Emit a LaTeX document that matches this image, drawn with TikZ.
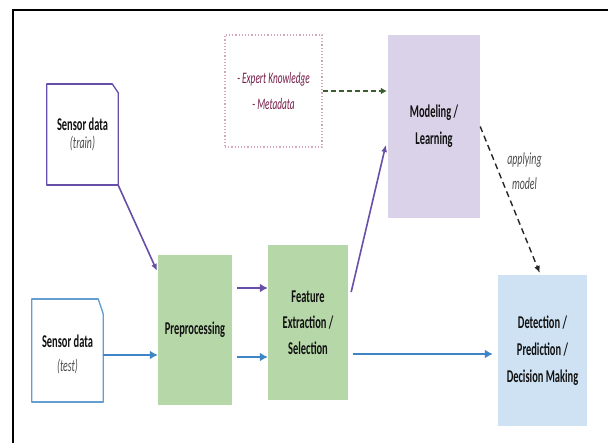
\documentclass[tikz,border=0pt]{standalone}
\usepackage{fontspec}
\setmainfont{Carlito}[FakeStretch=0.58]
\usetikzlibrary{arrows.meta,calc}

\definecolor{greenbox}{HTML}{B6D7A8}
\definecolor{lavbox}{HTML}{D9D2E9}
\definecolor{bluebox}{HTML}{CFE2F3}
\definecolor{trainpurple}{HTML}{674EA7}
\definecolor{testblue}{HTML}{3D85C6}
\definecolor{knowgreen}{HTML}{3A5F2C}
\definecolor{knowpink}{HTML}{D5A6BD}
\definecolor{knowtext}{HTML}{741B47}
\definecolor{inktext}{HTML}{111111}
\definecolor{softtext}{HTML}{4A4A4A}

\begin{document}
\begin{tikzpicture}[x=1pt,y=-1pt,
  stage/.style={rectangle, inner sep=0pt, align=center, text=inktext,
    font=\bfseries\fontsize{18}{27}\selectfont},
  source/.style={rectangle, inner sep=0pt, align=center, text=inktext,
    font=\bfseries\fontsize{18}{18}\selectfont},
  flowhead/.style={-{Latex[length=8pt,width=9pt]}},
  thinhead/.style={-{Latex[length=7pt,width=6pt]}},
  trainflow/.style={thinhead, draw=trainpurple, line width=1.6pt},
  testflow/.style={flowhead, draw=testblue, line width=2.8pt},
  featflow/.style={flowhead, draw=trainpurple, line width=2.8pt},
]
\useasboundingbox (0,0) rectangle (608,443);

% page frame
\draw[line width=1.6pt] (13,443) -- (13,10) -- (608,10);

% data sources: document-like boxes with a clipped top-right corner
\node[source, minimum width=71pt, minimum height=101pt] (train) at (82.5,134.5)
  {Sensor data\\{\mdseries\itshape\color{softtext}\fontsize{17}{18}\selectfont(train)}};
\draw[trainpurple, line width=1.3pt, line join=round]
  (train.north west) -- ($(train.north east)+(-6,0)$) -- ($(train.north east)+(0,9)$)
  -- (train.south east) -- (train.south west) -- cycle;
\draw[trainpurple, line width=2.4pt]
  (train.north west) -- ($(train.north east)+(-6,0)$)
  (train.south west) -- (train.south east);

\node[source, minimum width=71pt, minimum height=103pt,
  font=\bfseries\fontsize{18}{24}\selectfont] (test) at (67.5,350.5)
  {\\[-4pt]Sensor data\\{\mdseries\itshape\color{softtext}\fontsize{17}{24}\selectfont(test)}};
\draw[testblue!80, line width=1.3pt, line join=round]
  (test.north west) -- ($(test.north east)+(-5,0)$) -- ($(test.north east)+(0,15)$)
  -- (test.south east) -- (test.south west) -- cycle;
\draw[testblue!80, line width=2.4pt]
  (test.north west) -- ($(test.north east)+(-5,0)$)
  (test.south west) -- (test.south east);

% processing stages
\node[stage, fill=greenbox, minimum width=74pt, minimum height=150pt] (pre) at (195,330)
  {Preprocessing};
\node[stage, fill=greenbox, minimum width=80pt, minimum height=155pt,
  font=\bfseries\fontsize{18}{26}\selectfont] (feat) at (308,322.5)
  {Feature\\Extraction /\\Selection};
\node[stage, fill=lavbox, minimum width=92pt, minimum height=183pt] (model) at (434,126.5)
  {Modeling /\\Learning};
\node[stage, fill=bluebox, minimum width=89pt, minimum height=151pt] (det) at (542.5,350.5)
  {Detection /\\Prediction /\\Decision Making};

% prior knowledge
\node[rectangle, draw=knowpink, dotted, line width=1.2pt, inner sep=0pt,
  minimum width=97pt, minimum height=112pt, align=center, text=knowtext,
  font=\itshape\fontsize{16}{26}\selectfont] (expert) at (273.5,91)
  {- Expert Knowledge\\- Metadata};

% connectors
\draw[trainflow, shorten >=2pt] (train.south east) -- (pre.123.5);
\draw[testflow] ([shift={(0,4.5)}]test.east) -- ([shift={(0,25)}]pre.west);
\draw[featflow, shorten <=5pt] ([shift={(0,-42)}]pre.east) -- ([shift={(0,-34.5)}]feat.west);
\draw[testflow, shorten <=5pt] ([shift={(0,27)}]pre.east) -- ([shift={(0,34.5)}]feat.west);
\draw[trainflow] ([shift={(3,-30.5)}]feat.east) -- ([shift={(-2,18.5)}]model.west);
\draw[testflow, shorten <=5pt, shorten >=5pt] ([shift={(0,31.5)}]feat.east) -- ([shift={(0,3.5)}]det.west);
\draw[knowgreen, dashed, line width=2.2pt, dash pattern=on 5pt off 3pt,
  -{Latex[length=6pt,width=7pt]}, shorten >=1pt] (expert.east) -- (expert.east -| model.west);
\draw[black!85, line width=1.4pt, dash pattern=on 6pt off 4pt,
  -{Latex[length=7pt,width=6pt]}, shorten >=2pt]
  (model.east) -- node[pos=0.3, right=5pt, align=center, text=softtext,
    font=\itshape\fontsize{17}{25}\selectfont] (applylabel) {applying\\model}
  ([shift={(-2,0)}]det.north);
\end{tikzpicture}
\end{document}
